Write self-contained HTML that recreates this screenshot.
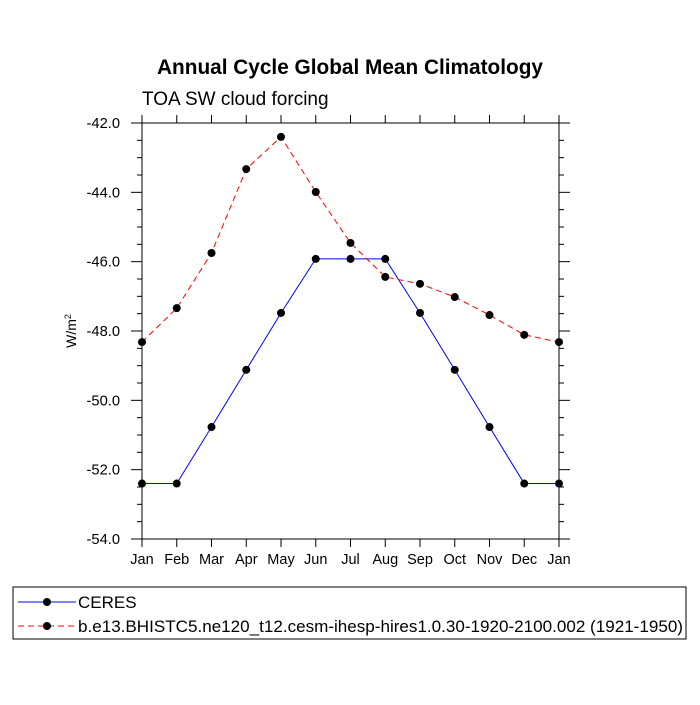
<!DOCTYPE html>
<html><head><meta charset="utf-8"><style>body{margin:0;background:#fff}svg text{font-family:"Liberation Sans",sans-serif}</style></head>
<body>
<svg id="c" width="700" height="700">
<text x="350" y="74" text-anchor="middle" font-size="20.8" font-weight="bold">Annual Cycle Global Mean Climatology</text>
<text x="142" y="105" font-size="19">TOA SW cloud forcing</text>
<text transform="translate(76,331) rotate(-90)" text-anchor="middle" font-size="14">W/m<tspan dy="-5" font-size="9">2</tspan></text>
<g id="axes"></g><g id="series"></g>
<rect x="13" y="587" width="673" height="52" fill="none" stroke="#000" stroke-width="1"/>
<g>
<line x1="18" y1="602" x2="76" y2="602" stroke="blue"/><circle cx="47" cy="602" r="4"/>
<text x="78" y="608" font-size="17">CERES</text></g>
<g>
<line x1="18" y1="626" x2="76" y2="626" stroke="red" stroke-dasharray="6,4"/><circle cx="47" cy="626" r="4"/>
<text x="78" y="632" font-size="17" textLength="605" lengthAdjust="spacingAndGlyphs">b.e13.BHISTC5.ne120_t12.cesm-ihesp-hires1.0.30-1920-2100.002 (1921-1950)</text></g>
</svg>
<script>
const months=["Jan","Feb","Mar","Apr","May","Jun","Jul","Aug","Sep","Oct","Nov","Dec","Jan"];
const ceres=[-52.4,-52.4,-50.77,-49.12,-47.48,-45.92,-45.92,-45.92,-47.48,-49.12,-50.77,-52.4,-52.4];
const model=[-48.32,-47.34,-45.75,-43.33,-42.4,-43.99,-45.46,-46.44,-46.64,-47.02,-47.54,-48.11,-48.32];
const yTicks=[-42,-44,-46,-48,-50,-52,-54];
const X0=142,X1=559,Y0=123,Y1=539,ymin=-54,ymax=-42;
const xs=i=>X0+i*(X1-X0)/12, ys=v=>Y0+(ymax-v)/(ymax-ymin)*(Y1-Y0);
const NS="http://www.w3.org/2000/svg";
function mk(t,a,p){const e=document.createElementNS(NS,t);for(const k in a)e.setAttribute(k,a[k]);p.appendChild(e);return e;}
const ax=document.getElementById('axes'),sr=document.getElementById('series');
const box=mk('rect',{x:X0,y:Y0,width:X1-X0,height:Y1-Y0,fill:'none',stroke:'#000','stroke-width':1},ax);


months.forEach((m,i)=>{const x=xs(i);
mk('line',{x1:x,y1:Y1,x2:x,y2:Y1+8,stroke:'#000'},ax);
mk('line',{x1:x,y1:Y0,x2:x,y2:Y0-8,stroke:'#000'},ax);
const t=mk('text',{x:x,y:Y1+25,'text-anchor':'middle','font-size':14.5},ax);t.textContent=m;

});
for(let v=ymin;v<=ymax+0.001;v+=0.5){const y=ys(v);const maj=Math.abs(v%2)<0.01;const L=maj?11:5;
mk('line',{x1:X0-L,y1:y,x2:X0,y2:y,stroke:'#000'},ax);
mk('line',{x1:X1,y1:y,x2:X1+L,y2:y,stroke:'#000'},ax);}
yTicks.forEach(v=>{const t=mk('text',{x:120,y:ys(v)+5,'text-anchor':'end','font-size':14.7},ax);t.textContent=v.toFixed(1);

});
function series(d,col,dash,name){const g=mk('g',{},sr);


mk('polyline',{points:d.map((v,i)=>xs(i)+','+ys(v)).join(' '),fill:'none',stroke:col,'stroke-dasharray':dash},g);
d.forEach((v,i)=>mk('circle',{cx:xs(i),cy:ys(v),r:4,fill:'#000'},g));}
series(ceres,'blue','none','ceres-series');
series(model,'red','6,4','model-series');
</script>
</body></html>
